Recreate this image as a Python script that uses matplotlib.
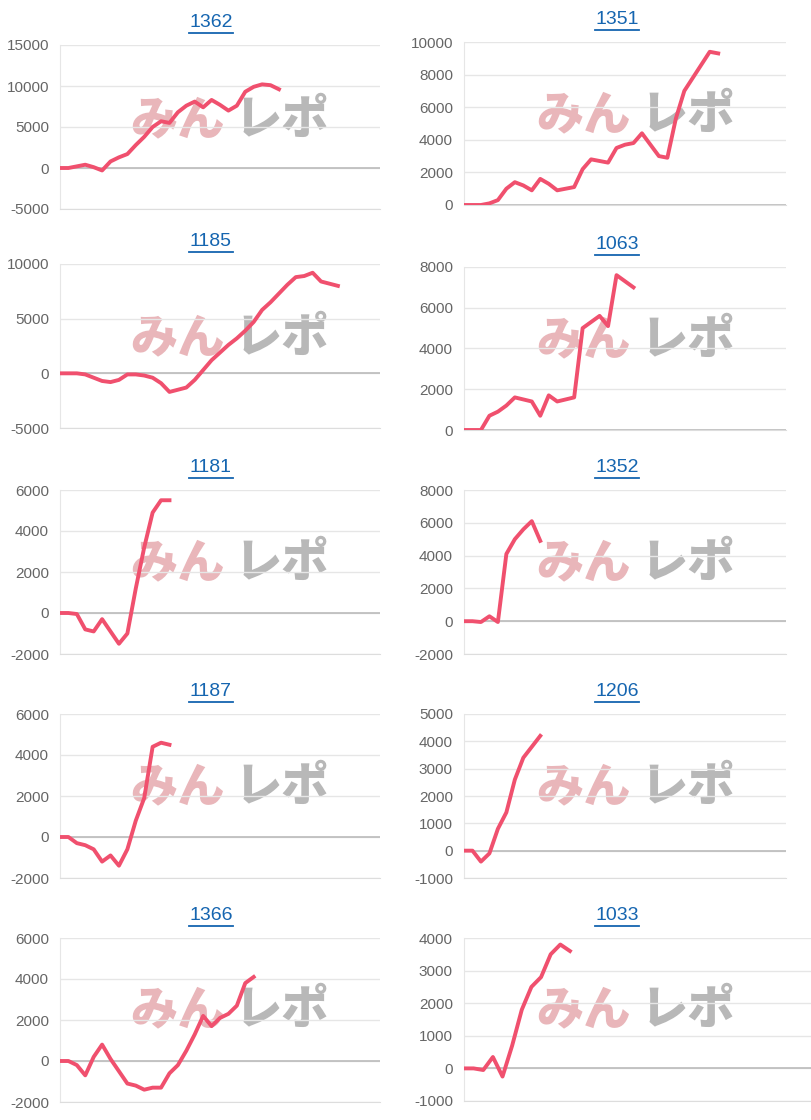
import matplotlib.pyplot as plt
from matplotlib.ticker import MultipleLocator

plt.rcParams["font.family"] = ["Liberation Sans", "DejaVu Sans"]
plt.rcParams["axes.unicode_minus"] = False

titles = ["1362", "1351", "1185", "1063", "1181", "1352", "1187", "1206", "1366", "1033"]

s1362 = [0, 0, 200, 400, 100, -300, 800, 1300, 1700, 2800, 3800, 5000, 5700, 5500,
         6800, 7600, 8100, 7400, 8300, 7700, 7000, 7600, 9300, 9900, 10200, 10100, 9600]
s1351 = [0, 0, 0, 100, 300, 1000, 1400, 1200, 900, 1600, 1300, 900, 1000, 1100, 2200,
         2800, 2700, 2600, 3500, 3700, 3800, 4400, 3700, 3000, 2900, 5300, 7000, 7800,
         8600, 9400, 9300]
s1185 = [0, 0, 0, -100, -400, -700, -800, -600, -100, -100, -200, -400, -900, -1700,
         -1500, -1300, -600, 300, 1200, 1900, 2600, 3200, 3900, 4700, 5800, 6500, 7300,
         8100, 8800, 8900, 9200, 8400, 8200, 8000]
s1063 = [0, 0, 0, 700, 900, 1200, 1600, 1500, 1400, 700, 1700, 1400, 1500, 1600, 5000,
         5300, 5600, 5100, 7600, 7300, 7000]
s1181 = [0, 0, -50, -800, -900, -300, -900, -1500, -1000, 1200, 3200, 4900, 5500, 5500]
s1352 = [0, 0, -50, 300, -50, 4100, 5000, 5600, 6100, 4900]
s1187 = [0, 0, -300, -400, -600, -1200, -900, -1400, -600, 800, 1900, 4400, 4600, 4500]
s1206 = [0, 0, -400, -100, 800, 1400, 2600, 3400, 3800, 4200]
s1366 = [0, 0, -200, -700, 200, 800, 100, -500, -1100, -1200, -1400, -1300, -1300, -600,
         -200, 500, 1300, 2200, 1700, 2100, 2300, 2700, 3800, 4100]
s1033 = [0, 0, -50, 350, -250, 700, 1800, 2500, 2800, 3500, 3800, 3600]
series = [s1362, s1351, s1185, s1063, s1181, s1352, s1187, s1206, s1366, s1033]

ylims = [(-5000, 15000), (0, 10000), (-5000, 10000), (0, 8000), (-2000, 6000),
         (-2000, 8000), (-2000, 6000), (-1000, 5000), (-2000, 6000), (-1000, 4000)]
ysteps = [5000, 2000, 5000, 2000, 2000, 2000, 2000, 1000, 2000, 1000]
slots = 38

W, H = 812, 1120
fig = plt.figure(figsize=(W / 100, H / 100), dpi=100)
tops = [45, 42, 264, 267, 490, 490, 714, 714, 938, 938]
bottoms = [209, 205, 428, 430, 654, 654, 878, 878, 1102, 1101]
mark_y = [120, 115, 338, 340, 563, 563, 787, 787, 1010, 1010]

for i, (title, ys) in enumerate(zip(titles, series)):
    col = i % 2
    x0, x1 = (60, 380) if col == 0 else (464, 786 if i < 8 else 830)
    ax = fig.add_axes([x0 / W, 1 - bottoms[i] / H, (x1 - x0) / W, (bottoms[i] - tops[i]) / H])
    ax.set_facecolor("none")
    ax.set_zorder(1)
    ax.plot(range(len(ys)), ys, color="#f0506e", lw=2.8, zorder=3)
    ax.set_xlim(0, slots)
    ax.set_ylim(*ylims[i])
    ax.yaxis.set_major_locator(MultipleLocator(ysteps[i]))
    ax.grid(axis="y", color="#e6e6e6", lw=1)
    ax.axhline(0, color="#bbbbbb", lw=1.2, zorder=2)
    ax.set_xticks([])
    for sp in ["top", "right"]:
        ax.spines[sp].set_visible(False)
    ax.spines["left"].set_color("#e6e6e6")
    ax.spines["bottom"].set_color("#dddddd")
    ax.tick_params(axis="y", length=0, labelsize=11, labelcolor="#666666", pad=8)

    # title with underline, centred over the 406px column
    cx = (211 if col == 0 else 617) / W
    ty = 1 - (tops[i] - 14) / H
    fig.text(cx, ty, title, ha="center", va="bottom", color="#1565b0", fontsize=14)
    fig.add_artist(plt.Line2D([cx - 22 / W, cx + 22 / W], [ty - 1.5 / H] * 2,
                              color="#1565b0", lw=1.3))

    # watermark, drawn under the transparent axes
    wx = 0 if col == 0 else 406
    wy = 1 - mark_y[i] / H
    fig.text((wx + 178) / W, wy, "みん", ha="center", va="center", fontsize=34,
             fontweight="heavy", color="#e9b6ba", family=["Noto Sans CJK JP"], zorder=0)
    fig.text((wx + 282) / W, wy, "レポ", ha="center", va="center", fontsize=34,
             fontweight="heavy", color="#b8b8b8", family=["Noto Sans CJK JP"], zorder=0)

fig.savefig("out.png", dpi=100)
